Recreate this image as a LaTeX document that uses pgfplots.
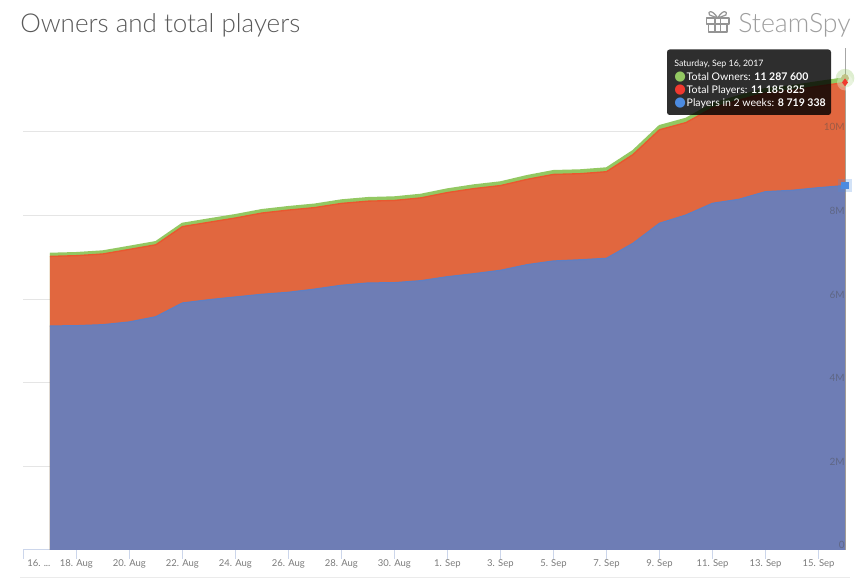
\documentclass[border=0pt]{standalone}
\usepackage{fontspec}
\usepackage{pgfplots}
\usepackage{pgfplotstable}
\pgfplotsset{compat=1.18}
\setmainfont{Lato}
\newfontfamily\lightfont{Lato Light}
\newfontfamily\symfont{DejaVu Sans}
\definecolor{owners}{HTML}{93C862}
\definecolor{playersfill}{HTML}{E1673F}
\definecolor{playersline}{HTML}{E9572F}
\definecolor{twofill}{HTML}{6E7DB5}
\definecolor{twoline}{HTML}{5E7FC4}
\definecolor{axisblue}{HTML}{CCD6EB}
\definecolor{tipred}{HTML}{F0392F}
\definecolor{tipblue}{HTML}{4C8BE0}

% day 0 = 16 Aug, values in millions
\pgfplotstableread{
day owners players two
1 7.088 7.024 5.359
2 7.105 7.041 5.366
3 7.146 7.082 5.390
4 7.256 7.191 5.455
5 7.368 7.302 5.581
6 7.806 7.736 5.909
7 7.911 7.840 5.988
8 8.014 7.942 6.053
9 8.134 8.061 6.117
10 8.206 8.132 6.165
11 8.266 8.192 6.242
12 8.366 8.291 6.333
13 8.421 8.345 6.388
14 8.438 8.362 6.395
15 8.500 8.424 6.443
16 8.629 8.551 6.538
17 8.725 8.646 6.610
18 8.797 8.718 6.691
19 8.947 8.866 6.825
20 9.067 8.985 6.914
21 9.084 9.002 6.943
22 9.132 9.050 6.978
23 9.545 9.459 7.337
24 10.144 10.053 7.816
25 10.318 10.225 8.014
26 10.670 10.574 8.294
27 10.860 10.762 8.390
28 11.030 10.931 8.572
29 11.100 11.000 8.605
30 11.196 11.095 8.667
31 11.2876 11.1858 8.7193
}\datatable

\begin{document}
\begin{tikzpicture}
\path (0,0) rectangle (645pt,441pt);
\begin{axis}[
  set layers,
  at={(17.48pt,28.5pt)},
  anchor=south west,
  scale only axis,
  width=616.28pt,
  height=376.2pt,
  xmin=0, xmax=31,
  ymin=0, ymax=12,
  clip=false,
  axis x line*=bottom,
  axis y line*=right,
  x axis line style={axisblue,line width=0.75pt},
  y axis line style={draw=none},
  xtick={0,2,...,30},
  xticklabels={\rlap{\hspace{3pt}16. ...},18. Aug,20. Aug,22. Aug,24. Aug,26. Aug,28. Aug,30. Aug,1. Sep,3. Sep,5. Sep,7. Sep,9. Sep,11. Sep,13. Sep,15. Sep},
  x tick style={axisblue,line width=0.75pt},
  major tick length=6.75pt,
  tick align=outside,
  x tick label style={font=\fontsize{7.1}{9}\selectfont,text=black!52,yshift=3pt},
  ytick={0,2,4,6,8,10},
  yticklabels={0,2M,4M,6M,8M,10M},
  y tick style={draw=none},
  y tick label style={/pgfplots/on layer=axis foreground,font=\fontsize{7.5}{9}\selectfont,text=black!70,text opacity=0.45,anchor=south east,inner sep=0pt,xshift=-6.8pt,yshift=0.6pt},
  ymajorgrids,
  grid style={black!10,line width=0.75pt},
]
\addplot[black!35,line width=0.6pt,forget plot] coordinates {(31,0) (31,12)};
\addplot[draw=none,fill=owners] table[x=day,y=owners] {\datatable} \closedcycle;
\addplot[draw=none,fill=playersfill] table[x=day,y=players] {\datatable} \closedcycle;
\addplot[draw=none,fill=twofill] table[x=day,y=two] {\datatable} \closedcycle;
\addplot[twoline,line width=0.9pt] table[x=day,y=two] {\datatable};
\addplot[playersline,line width=1pt] table[x=day,y=players] {\datatable};
\addplot[owners,line width=1.5pt] table[x=day,y=owners] {\datatable};
% hover markers on the last day
\addplot[only marks,mark=*,mark size=7pt,mark options={draw opacity=0,fill=owners,fill opacity=0.3}] coordinates {(31,11.2876)};
\addplot[only marks,mark=*,mark size=3pt,mark options={draw opacity=0,fill=owners!60!brown}] coordinates {(31,11.2876)};
\addplot[only marks,mark=*,mark size=6pt,mark options={draw opacity=0,fill=white,fill opacity=0.3}] coordinates {(31,11.1858)};
\addplot[only marks,mark=diamond*,mark size=3pt,mark options={draw opacity=0,fill=tipred}] coordinates {(31,11.1858)};
\addplot[only marks,mark=square*,mark size=5pt,mark options={draw opacity=0,fill=tipblue,fill opacity=0.25}] coordinates {(31,8.7193)};
\addplot[only marks,mark=square*,mark size=2.7pt,mark options={draw opacity=0,fill=tipblue}] coordinates {(31,8.7193)};
\end{axis}

\begin{scope}[shift={(0,441pt)},x=0.75pt,y=-0.75pt]
  % faint line under the chart
  \draw[black!8,line width=0.75pt] (20,577.3) -- (850,577.3);
  % title and logo
  \node[anchor=base west,inner sep=0pt,text=black!65,font=\lightfont\fontsize{19.5}{24}\selectfont] at (20,32.5) {Owners and total players};
  \node[anchor=base west,inner sep=0pt,text=black!38,font=\lightfont\fontsize{20}{24}\selectfont] at (738,33) {SteamSpy};
  \begin{scope}[black!42,line width=0.9pt,line join=round]
    \draw (706.5,18) rectangle (729,24);
    \draw (708.5,24) rectangle (727,32);
    \draw (715,18) -- (715,32) (720.5,18) -- (720.5,32);
    \draw (717.7,18) .. controls (712,9) and (707,11) .. (709.5,15) -- (717.7,18);
    \draw (717.7,18) .. controls (723,9) and (728,11) .. (726,15) -- (717.7,18);
  \end{scope}
  % tooltip
  \fill[black,fill opacity=0.82,rounded corners=2pt] (667,49.5) rectangle (831,115);
  \node[anchor=base west,inner sep=0pt,text=white,font=\fontsize{6.6}{8}\selectfont] at (674,67) {Saturday, Sep 16, 2017};
  \node[anchor=base west,inner sep=0pt,text=white,font=\fontsize{7.9}{10}\selectfont] at (674,80.3)
    {{\symfont\fontsize{10}{10}\selectfont\textcolor{owners}{●}}\hspace{0.6pt}Total Owners: \textbf{11 287 600}};
  \node[anchor=base west,inner sep=0pt,text=white,font=\fontsize{7.9}{10}\selectfont] at (674,93.5)
    {{\symfont\fontsize{10}{10}\selectfont\textcolor{tipred}{●}}\hspace{0.6pt}Total Players: \textbf{11 185 825}};
  \node[anchor=base west,inner sep=0pt,text=white,font=\fontsize{7.9}{10}\selectfont] at (674,107)
    {{\symfont\fontsize{10}{10}\selectfont\textcolor{tipblue}{●}}\hspace{0.6pt}Players in 2 weeks: \textbf{8 719 338}};
\end{scope}
\end{tikzpicture}
\end{document}
